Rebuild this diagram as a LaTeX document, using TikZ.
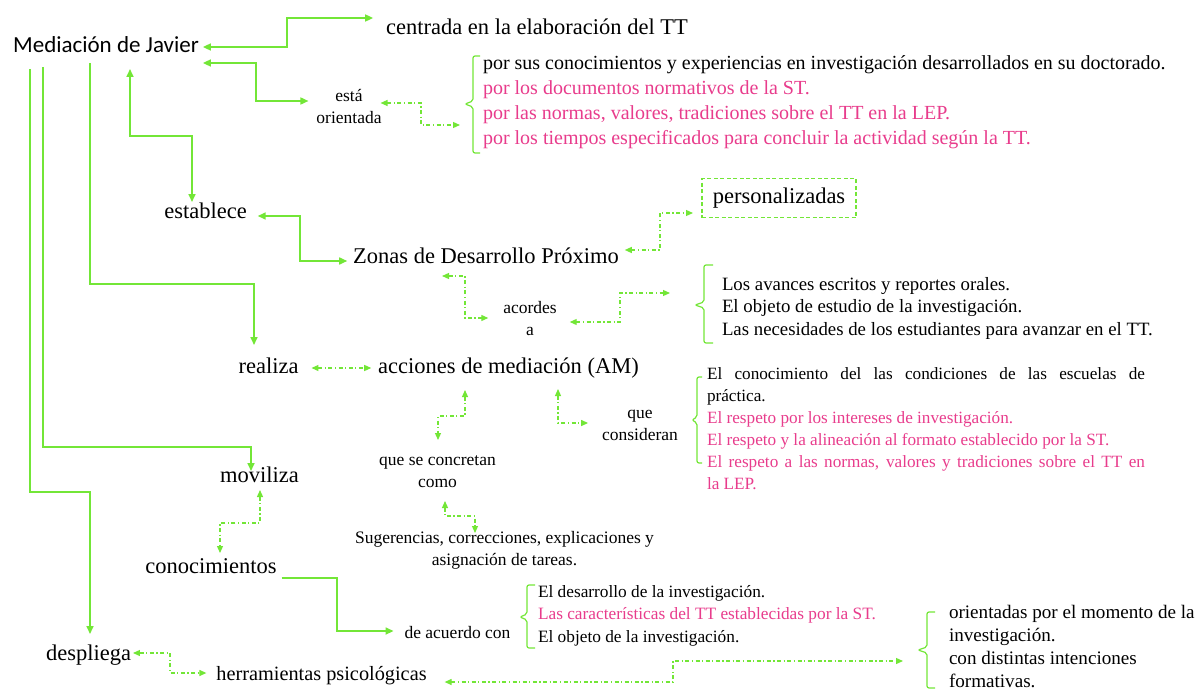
\documentclass[tikz,border=0pt]{standalone}
\usepackage{fontspec}
\setmainfont{Liberation Serif}
\newfontfamily\titlefont{Carlito}
\usetikzlibrary{arrows.meta,calc}
\definecolor{lime}{RGB}{115,230,55}
\definecolor{rosa}{RGB}{232,60,140}
\newcommand\fbig{\fontsize{22.5}{27}\selectfont}
\newcommand\fsmall{\fontsize{17.5}{22}\selectfont}
\begin{document}
\begin{tikzpicture}[x=1pt,y=-1pt,
  txt/.style={inner sep=0pt,outer sep=0pt,align=center},
  big/.style={txt,font=\fbig},
  sml/.style={txt,font=\fsmall},
  lst/.style={inner sep=0pt,outer sep=0pt,align=left,anchor=base west},
  sl/.style={draw=lime,line width=1.6pt,>={Triangle[length=8pt,width=7pt]}},
  dd/.style={draw=lime,line width=1.2pt,dash pattern=on 4pt off 2.5pt on 1.2pt off 2.5pt,>={Triangle[length=7pt,width=6pt]}},
  br/.style={draw=lime,line width=1.2pt,rounded corners=2pt}]
\useasboundingbox (0,0) rectangle (1198,690);

% nodes (base = baseline of the last line)
\node[txt,font=\titlefont\fontsize{23}{28}\selectfont,anchor=base] (med) at (106,53) {Mediación de Javier};
\node[big,anchor=base] (centrada) at (537,35) {centrada en la elaboración del TT};
\node[sml,anchor=base] (esta) at (349,124) {está\\orientada};
\node[lst,font=\fontsize{20}{25}\selectfont] (toplist) at (483,144) {por sus conocimientos y experiencias en investigación desarrollados en su doctorado.\\
\textcolor{rosa}{por los documentos normativos de la ST.}\\
\textcolor{rosa}{por las normas, valores, tradiciones sobre el TT en la LEP.}\\
\textcolor{rosa}{por los tiempos especificados para concluir la actividad según la TT.}};
\node[big,anchor=base] (establece) at (205.5,218) {establece};
\node[big,anchor=base] (zonas) at (486,263) {Zonas de Desarrollo Próximo};
\node[txt,font=\fbig,draw=lime,line width=1.1pt,dash pattern=on 4pt off 2.5pt,minimum width=154pt,minimum height=39pt] (pers) at (779,198) {personalizadas};
\node[sml,anchor=base] (acordes) at (530,335) {acordes\\a};
\node[lst,font=\fontsize{18.8}{22.8}\selectfont] (zdplist) at (722,335.6) {Los avances escritos y reportes orales.\\
El objeto de estudio de la investigación.\\
Las necesidades de los estudiantes para avanzar en el TT.};
\node[big,anchor=base] (realiza) at (268.5,373) {realiza};
\node[big,anchor=base] (acciones) at (508.5,373) {acciones de mediación (AM)};
\node[sml,anchor=base] (consid) at (640,440) {que\\consideran};
\node[lst,font=\fontsize{17.2}{22}\selectfont] (conslist) at (707,489) {\makebox[438pt][s]{El conocimiento del las condiciones de las escuelas de}\\
práctica.\\
\textcolor{rosa}{El respeto por los intereses de investigación.}\\
\textcolor{rosa}{El respeto y la alineación al formato establecido por la ST.}\\
\textcolor{rosa}{\makebox[438pt][s]{El respeto a las normas, valores y tradiciones sobre el TT en}}\\
\textcolor{rosa}{la LEP.}};
\node[big,anchor=base] (moviliza) at (259.5,482) {moviliza};
\node[sml,anchor=base] (concretan) at (437.5,487) {que se concretan\\como};
\node[sml,anchor=base] (suger) at (504.5,565) {Sugerencias, correcciones, explicaciones y\\asignación de tareas.};
\node[big,anchor=base] (conoc) at (211,573) {conocimientos};
\node[sml,anchor=base] (deacuerdo) at (457.5,638) {de acuerdo con};
\node[lst,font=\fontsize{17.3}{22.5}\selectfont] (dalist) at (538,642) {El desarrollo de la investigación.\\
\textcolor{rosa}{Las características del TT establecidas por la ST.}\\
El objeto de la investigación.};
\node[big,anchor=base] (despliega) at (88.5,660) {despliega};
\node[txt,font=\fontsize{20.3}{24}\selectfont,anchor=base] (herr) at (321.5,680) {herramientas psicológicas};
\node[lst,font=\fontsize{19.1}{23}\selectfont] (herrlist) at (949,687) {orientadas por el momento de la\\
investigación.\\
con distintas intenciones\\
formativas.};

% brace tip coordinates
\coordinate (b1) at (460,125);
\coordinate (b2) at (670,293);
\coordinate (b4) at (903,661);

% braces
\draw[br] (480,56) -- (473,56) -- (473,101) -- (465,104) -- (473,107) -- (473,153) -- (480,153);
\draw[br] (713,265) -- (704,265) -- (704,302) -- (695,305) -- (704,308) -- (704,343) -- (713,343);
\draw[br] (702,377) -- (697,377) -- (697,417) -- (692,420) -- (697,423) -- (697,463) -- (702,463);
\draw[br] (535,585) -- (527,585) -- (527,614) -- (520,617) -- (527,620) -- (527,648) -- (535,648);
\draw[br] (935,612) -- (927,612) -- (927,647) -- (918,650) -- (927,653) -- (927,688) -- (935,688);

% connectors
\draw[sl,<->] ($(med.east|-0,47)+(4,0)$) -- (287,47) -- (287,18) -- ($(centrada.west|-0,18)+(-13,0)$);
\draw[sl,<->] ($(med.east|-0,63)+(4,0)$) -- (256,63) -- (256,101) -- ($(esta.west|-0,101)+(-8,0)$);
\draw[dd,<->] ($(esta.east|-0,103)+(-1,0)$) -- (421,103) -- (421,125) -- (b1);
\draw[sl,<->] ($(med.base-|130,0)+(0,16)$) -- (130,136) -- (192,136) -- ($(establece.base-|192,0)+(0,-16)$);
\draw[sl,<->] ($(establece.east|-0,216)+(11,0)$) -- (300,216) -- (300,261) -- ($(zonas.west|-0,261)+(-6,0)$);
\draw[dd,<->] ($(zonas.east|-0,250)+(6,0)$) -- (660,250) -- (660,213) -- ($(pers.west|-0,213)+(-9,0)$);
\draw[dd,<->] ($(zonas.base-|442,0)+(0,13)$) -- (465,276) -- (465,318) -- ($(acordes.west|-0,318)+(-15,0)$);
\draw[dd,<->] ($(acordes.east|-0,322)+(13,0)$) -- (620,322) -- (620,293) -- (b2);
\draw[sl,->] ($(med.base-|90,0)+(0,10)$) -- (90,284) -- (254,284) -- ($(realiza.base-|254,0)+(0,-28)$);
\draw[dd,<->] ($(realiza.east|-0,368)+(13,0)$) -- ($(acciones.west|-0,368)+(-7,0)$);
\draw[dd,<->] ($(acciones.base-|465,0)+(0,17)$) -- (465,416) -- (438,416) -- ($(concretan.base-|438,0)+(0,-47)$);
\draw[dd,<->] ($(acciones.base-|558,0)+(0,16)$) -- (558,423) -- ($(consid.west|-0,423)+(-14,0)$);
\draw[sl,->] ($(med.base-|43,0)+(0,14)$) -- (43,447) -- (251,447) -- ($(moviliza.base-|251,0)+(0,-11)$);
\draw[dd,<->] ($(moviliza.base-|260,0)+(0,8)$) -- (260,523) -- (220,523) -- ($(conoc.base-|220,0)+(0,-20)$);
\draw[dd,<->] ($(concretan.base-|445,0)+(0,14)$) -- (445,516) -- (475,516) -- ($(suger.base-|475,0)+(0,-32)$);
\draw[sl,->] ($(conoc.east|-0,578)+(5,0)$) -- (337,578) -- (337,631) -- ($(deacuerdo.west|-0,631)+(-11,0)$);
\draw[sl,->] ($(med.base-|30,0)+(0,16)$) -- (30,492) -- (90,492) -- ($(despliega.base-|90,0)+(0,-26)$);
\draw[dd,<->] ($(despliega.east|-0,653)+(2,0)$) -- (170,653) -- (170,673) -- ($(herr.west|-0,673)+(-10,0)$);
\draw[dd,<->] ($(herr.east|-0,682)+(18,0)$) -- (673,682) -- (673,661) -- (b4);
\end{tikzpicture}
\end{document}
